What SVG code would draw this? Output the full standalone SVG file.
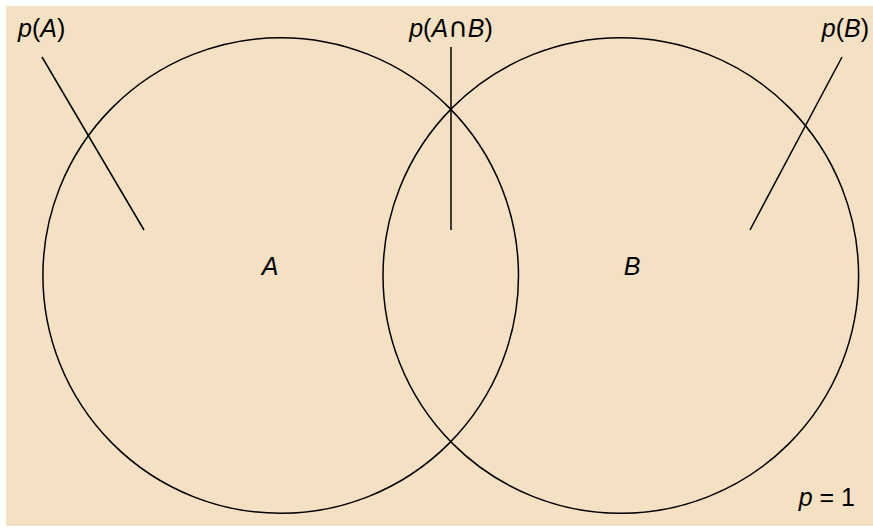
<svg xmlns="http://www.w3.org/2000/svg" width="873" height="529" viewBox="0 0 873 529">
<style>
.c{fill:none;stroke:#000;stroke-width:1.5}
.l{stroke:#000;stroke-width:1.5;fill:none}
text{font-family:"Liberation Sans",Arial,sans-serif;font-size:25px;fill:#000}
.i{font-style:italic}
.s{font-family:"DejaVu Sans",sans-serif;font-size:27px}
</style>
<rect x="6" y="6" width="867" height="520" fill="#F4E0C2"/>
<g id="circleA"><circle class="c" cx="280.7" cy="275.5" r="237.8"/><text class="i" x="270" y="275" text-anchor="middle">A</text></g>
<g id="circleB"><circle class="c" cx="620.8" cy="275.5" r="237.8"/><text class="i" x="632" y="275" text-anchor="middle">B</text></g>
<g id="connectors">
<line class="l" x1="42" y1="57" x2="144" y2="230"/>
<line class="l" x1="451" y1="47" x2="451" y2="230"/>
<line class="l" x1="842" y1="57" x2="750" y2="230"/>
</g>
<g id="labelA"><text x="18" y="37"><tspan class="i">p</tspan>(<tspan class="i">A</tspan>)</text></g>
<g id="labelAB"><text x="451" y="37" text-anchor="middle"><tspan class="i">p</tspan>(<tspan class="i">A</tspan><tspan class="s">∩</tspan><tspan class="i">B</tspan>)</text></g>
<g id="labelB"><text x="869" y="37" text-anchor="end"><tspan class="i">p</tspan>(<tspan class="i">B</tspan>)</text></g>
<g id="total"><text x="855" y="506" text-anchor="end"><tspan class="i">p</tspan> = 1</text></g>
</svg>
